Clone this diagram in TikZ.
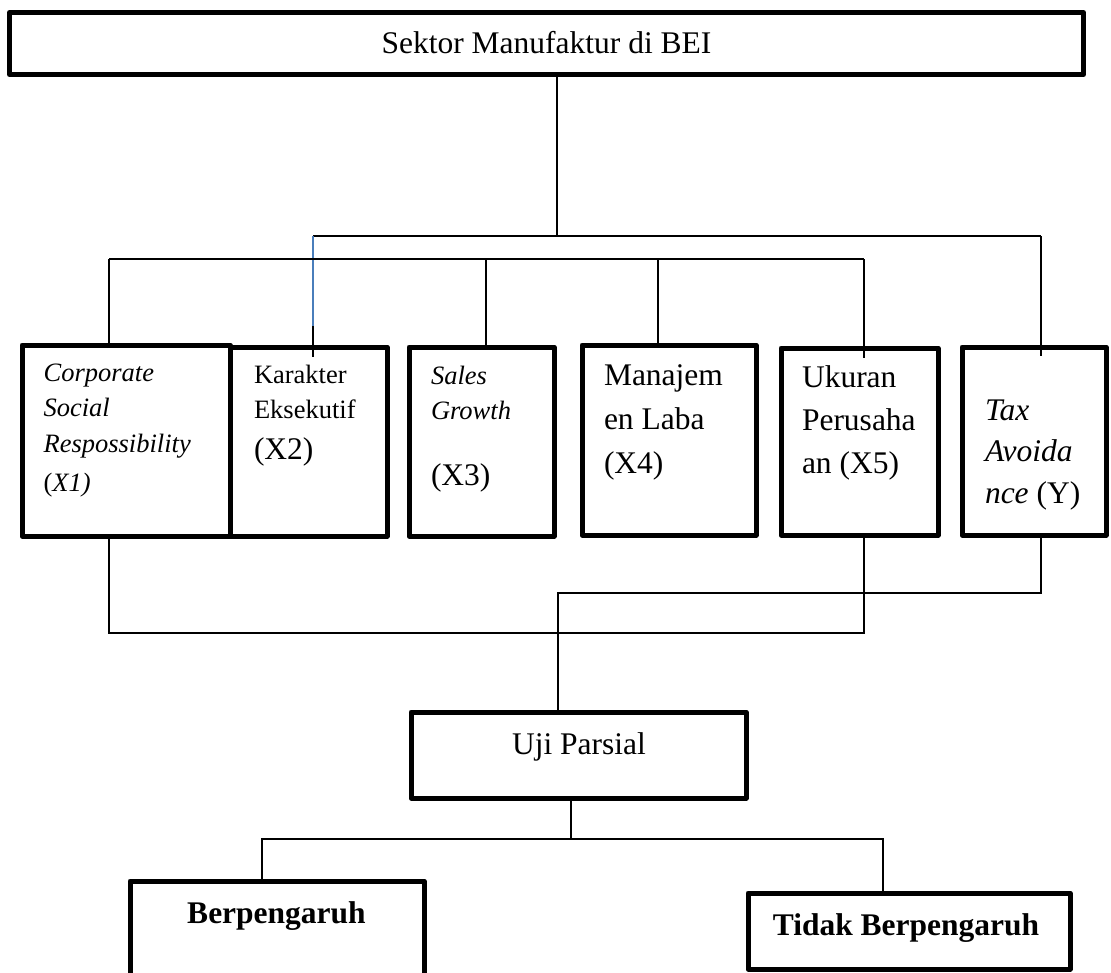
\documentclass[tikz,border=0pt]{standalone}
\usepackage{fontspec}
\setmainfont{Liberation Serif}
\usetikzlibrary{calc}
\definecolor{wordblue}{HTML}{4A7EBB}
\begin{document}
\begin{tikzpicture}[x=1pt,y=-1pt,
  box/.style={draw=black, line width=5pt, line join=round, rectangle, inner sep=0pt, outer sep=0pt},
  conn/.style={draw=black, line width=1.5pt},
  bluelink/.style={draw=wordblue, line width=1.5pt},
  lbl/.style={inner sep=0pt, outer sep=0pt, anchor=base west},
  ctr/.style={inner sep=0pt, outer sep=0pt, anchor=base},
  big/.style={font=\fontsize{31.5}{38}\selectfont},
  bigbold/.style={font=\fontsize{31.5}{38}\selectfont\bfseries},
]
\useasboundingbox (0,0) rectangle (1111,972);
\clip (0,0) rectangle (1111,972);

% ---------- boxes ----------
\node[box, minimum width=1074pt, minimum height=62pt] (top) at (546.5,43.5) {};
\node[box, minimum width=157pt, minimum height=189pt] (kar) at (308.5,441.5) {};
\node[box, minimum width=208pt, minimum height=191pt] (csr) at (126,440.5) {};
\node[box, minimum width=145pt, minimum height=189pt] (sal) at (481.5,441.5) {};
\node[box, minimum width=174pt, minimum height=190pt] (man) at (669,440) {};
\node[box, minimum width=157pt, minimum height=187pt] (uku) at (859.5,441.5) {};
\node[box, minimum width=144pt, minimum height=188pt] (tax) at (1034,441) {};
\node[box, minimum width=335pt, minimum height=86pt] (uji) at (578.5,755) {};
\node[box, minimum width=294pt, minimum height=104pt] (bp) at (277,933) {};
\node[box, minimum width=322pt, minimum height=76pt] (tbp) at (909,931) {};

% ---------- texts ----------
\node[ctr, big] (topt) at (546.5,53) {Sektor Manufaktur di BEI};
\node[lbl] (csrt) at (43.6,381) {\parbox[t]{190pt}{\raggedright\fontsize{26.5}{35.5}\selectfont\itshape Corporate\\Social\\Respossibility\\[4pt]{\upshape(}X1)}};
\node[lbl] (kart) at (254,383) {\parbox[t]{130pt}{\raggedright\fontsize{26.5}{35}\selectfont Karakter\\Eksekutif\\[6pt]\fontsize{31.5}{35}\selectfont(X2)}};
\node[lbl] (salt) at (431,384) {\parbox[t]{120pt}{\raggedright\fontsize{26.5}{35}\selectfont{\itshape Sales\\Growth}\\[31pt]\fontsize{31.5}{35}\selectfont(X3)}};
\node[lbl] (mant) at (604,385) {\parbox[t]{150pt}{\raggedright\fontsize{31.5}{44}\selectfont Manajem\\en Laba\\(X4)}};
\node[lbl] (ukut) at (802,387) {\parbox[t]{140pt}{\raggedright\fontsize{31.5}{43}\selectfont Ukuran\\Perusaha\\an (X5)}};
\node[lbl] (taxt) at (985,420) {\parbox[t]{120pt}{\raggedright\fontsize{31.5}{41.5}\selectfont\textit{Tax}\\\textit{Avoida}\\\textit{nce} (Y)}};
\node[ctr, big] (ujit) at (579,754) {Uji Parsial};
\node[ctr, bigbold] (bpt) at (276.5,923) {Berpengaruh};
\node[ctr, bigbold] (tbpt) at (906,935) {Tidak Berpengaruh};

% ---------- junction coordinates ----------
\coordinate (j0) at (557,236);
\coordinate (bL) at (313,236);
\coordinate (bR) at (1041,236);
\coordinate (kb) at (313,326);
\coordinate (cL) at (109,259);
\coordinate (c2) at (486,259);
\coordinate (c3) at (658,259);
\coordinate (cR) at (864,259);
\coordinate (dL) at (109,633);
\coordinate (dR) at (864,633);
\coordinate (eR) at (1041,593);
\coordinate (eL) at (558,593);
\coordinate (f0) at (571,839);
\coordinate (fL) at (262,839);
\coordinate (fR) at (883,839);

% ---------- connectors ----------
\draw[conn] (top.south -| j0) -- (j0);
\draw[conn] (bL) -- (bR);
\draw[bluelink] (bL) -- (kb);
\draw[conn] (kb) -- ($(kar.north -| kb)+(0,10)$);
\draw[conn] (bR) -- ($(bR |- tax.north)+(0,9)$);

\draw[conn] (cL) -- (cR);
\draw[conn] (cL) -- (cL |- csr.north);
\draw[conn] (c2) -- (c2 |- sal.north);
\draw[conn] (c3) -- (c3 |- man.north);
\draw[conn] (cR) -- ($(cR |- uku.north)+(0,10)$);

\draw[conn] (csr.south -| dL) -- (dL) -- (dR) -- (uku.south -| dR);
\draw[conn] (tax.south -| eR) -- (eR) -- (eL) -- (eL |- uji.north);

\draw[conn] (uji.south -| f0) -- (f0);
\draw[conn] (bp.north -| fL) -- (fL) -- (fR) -- (tbp.north -| fR);
\end{tikzpicture}
\end{document}
